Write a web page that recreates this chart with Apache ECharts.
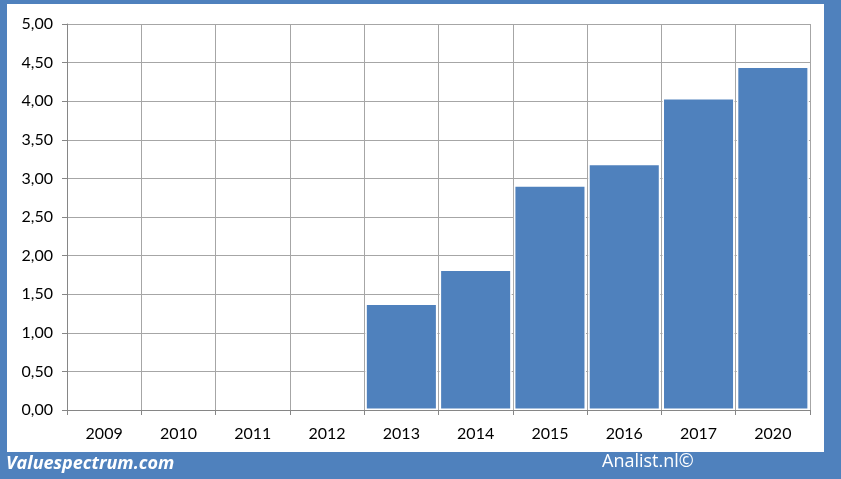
<!DOCTYPE html>
<html><head><meta charset="utf-8">
<script src="https://cdn.jsdelivr.net/npm/echarts@6/dist/echarts.min.js"></script>
<style>html,body{margin:0;padding:0;background:#4F81BD;}#c{width:841px;height:479px;}</style>
</head><body><div id="c"></div>
<script>
var categories = ['2009','2010','2011','2012','2013','2014','2015','2016','2017','2020'];
var values = [null, null, null, null, 1.38, 1.82, 2.91, 3.19, 4.04, 4.45];
var yTicks = {min: 0, max: 5, interval: 0.5};

var chart = echarts.init(document.getElementById('c'), null, {renderer: 'canvas'});
var font = 'Lato, "Open Sans", sans-serif';
chart.setOption({
  backgroundColor: '#4F81BD',
  animation: false,
  graphic: [
    {type: 'rect', z: -10, shape: {x: 7, y: 4, width: 817, height: 448}, style: {fill: '#ffffff'}},
    {type: 'text', left: 6, top: 455, style: {text: 'Valuespectrum.com', fill: '#ffffff', font: 'italic bold 18px "Open Sans", sans-serif'}},
    {type: 'text', left: 602, top: 453, style: {text: 'Analist.nl©', fill: '#ffffff', font: '18px "Open Sans", sans-serif'}}
  ],
  grid: {left: 67, right: 31, top: 24, bottom: 69, containLabel: false},
  xAxis: {
    type: 'category', data: categories,
    axisLine: {show: true, lineStyle: {color: '#868686', width: 1}},
    axisTick: {show: true, length: 5, lineStyle: {color: '#868686'}},
    axisLabel: {color: '#000', fontSize: 16, fontFamily: font, margin: 16},
    splitLine: {show: true, interval: 0, lineStyle: {color: '#a6a6a6', width: 1}}
  },
  yAxis: {
    type: 'value', min: yTicks.min, max: yTicks.max, interval: yTicks.interval,
    axisLine: {show: true, lineStyle: {color: '#868686'}},
    axisTick: {show: true, length: 5, lineStyle: {color: '#868686'}},
    axisLabel: {color: '#000', fontSize: 16, fontFamily: font, margin: 14,
      formatter: function(v){ return v.toFixed(2).replace('.', ','); }},
    splitLine: {show: true, lineStyle: {color: '#a6a6a6', width: 1}}
  },
  series: [{
    type: 'bar', data: values, barCategoryGap: '3%',
    itemStyle: {color: '#4F81BD', borderColor: '#ffffff', borderWidth: 1.5}
  }]
});
</script></body></html>
